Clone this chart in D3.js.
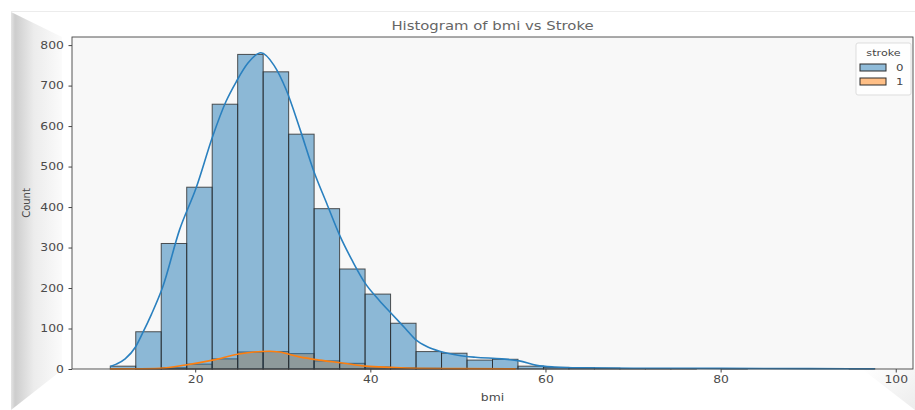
<!DOCTYPE html>
<html>
<head>
<meta charset="utf-8">
<script src="https://cdn.jsdelivr.net/npm/d3@7"></script>
<style>
  body { margin: 0; background: #fff; }
  svg { display: block; font-family: "DejaVu Sans", sans-serif; }
</style>
</head>
<body>
<svg id="chart" width="915" height="410"></svg>
<script>
// bin edges (bmi), 30 bins
const binEdges = [10.3, 13.21, 16.12, 19.03, 21.94, 24.85, 27.76, 30.67, 33.58, 36.49,
  39.4, 42.31, 45.22, 48.13, 51.04, 53.95, 56.86, 59.77, 62.68, 65.59,
  68.5, 71.41, 74.32, 77.23, 80.14, 83.05, 85.96, 88.87, 91.78, 94.69, 97.6];

// counts per bin
const countsStroke0 = [7, 92, 310, 449, 654, 777, 734, 580, 396, 247, 185, 113, 43, 39, 22,
  24, 7, 4, 3, 2, 1, 1, 1, 0, 1, 0, 0, 0, 0, 1];
const countsStroke1 = [0, 1, 3, 12, 25, 42, 43, 38, 20, 14, 5, 3, 2, 1, 0,
  0, 0, 0, 0, 0, 0, 0, 0, 0, 0, 0, 0, 0, 0, 0];

// kde curves: [bmi, count]
const kdeStroke0 = [[10.3, 6], [11, 12], [12, 25], [13.2, 55], [14, 89], [15, 135], [16.3, 203],
  [18.2, 343], [20.1, 447], [22, 575], [23.5, 660], [24.7, 710], [26, 755], [27.5, 781],
  [29, 750], [30.4, 689], [32, 590], [33.5, 491], [35, 410], [36.5, 330], [38, 265],
  [39.4, 212], [41, 170], [42.4, 137], [44, 100], [45.2, 72], [46.5, 55], [47.9, 44],
  [50, 34], [52, 29], [55, 25], [57, 20], [59, 9], [61, 5], [64, 3], [70, 2], [80, 1.5],
  [90, 1], [97.6, 0.5]];
const kdeStroke1 = [[10.3, 0.3], [13, 0.6], [16, 2], [18.9, 10], [22, 22], [25, 37], [28.5, 44],
  [29.6, 42], [31.9, 30], [34.2, 22], [36.8, 15], [39.5, 7], [42.4, 4], [45, 2], [50, 1],
  [56.6, 0.3]];

const yTicks = [0, 100, 200, 300, 400, 500, 600, 700, 800];
const xTicks = [20, 40, 60, 80, 100];
const hueLevels = ["0", "1"];

const svg = d3.select("#chart");
const pL = 72, pR = 913, pT = 37, pB = 369;
const stretch = "scale(1.24,1)"; // the picture is wider than tall

const x = d3.scaleLinear().domain([5.93, 101.97]).range([pL, pR]);
const y = d3.scaleLinear().domain([0, 820]).range([pB, pT]);
const color = d3.scaleOrdinal().domain(hueLevels).range(["#1f77b4", "#ff7f0e"]);

// decorative frame
const defs = svg.append("defs");
const g1 = defs.append("linearGradient").attr("id", "leftShade");
g1.append("stop").attr("offset", "0").attr("stop-color", "#e4e4e4");
g1.append("stop").attr("offset", "0.08").attr("stop-color", "#cdcdcd");
g1.append("stop").attr("offset", "0.45").attr("stop-color", "#ececec");
g1.append("stop").attr("offset", "1").attr("stop-color", "#fbfbfb");
const g2 = defs.append("linearGradient").attr("id", "brShade")
  .attr("x1", "0").attr("y1", "0").attr("x2", "1").attr("y2", "1");
g2.append("stop").attr("offset", "0").attr("stop-color", "#ffffff");
g2.append("stop").attr("offset", "1").attr("stop-color", "#ececec");

svg.append("line").attr("x1", 11).attr("x2", 915).attr("y1", 11.5).attr("y2", 11.5)
  .attr("stroke", "#ececec");
svg.append("polygon")
  .attr("points", "11,12 62,37 62,370 11,410")
  .attr("fill", "url(#leftShade)");
svg.append("polygon")
  .attr("points", "862,369 915,369 915,410")
  .attr("fill", "url(#brShade)");

// plot area
svg.append("rect").attr("x", pL).attr("y", pT)
  .attr("width", pR - pL).attr("height", pB - pT)
  .attr("fill", "#f8f8f8");

const bins0 = countsStroke0.map((c, i) => ({x0: binEdges[i], x1: binEdges[i + 1], n: c, hue: "0"}));
const bins1 = countsStroke1.map((c, i) => ({x0: binEdges[i], x1: binEdges[i + 1], n: c, hue: "1"}));

// seaborn draws hue levels in reverse: stroke=1 first, stroke=0 on top
[bins1, bins0].forEach(bins => {
  svg.append("g").selectAll("rect")
    .data(bins)
    .join("rect")
    .attr("x", d => x(d.x0))
    .attr("width", d => x(d.x1) - x(d.x0))
    .attr("y", d => y(d.n))
    .attr("height", d => y(0) - y(d.n))
    .attr("fill", d => color(d.hue))
    .attr("fill-opacity", 0.5)
    .attr("stroke", "#2b2b2b")
    .attr("stroke-opacity", 0.8)
    .attr("stroke-width", 1);
});

const line = d3.line().x(d => x(d[0])).y(d => y(d[1])).curve(d3.curveMonotoneX);
svg.append("path").datum(kdeStroke1).attr("d", line)
  .attr("fill", "none").attr("stroke", color("1")).attr("stroke-width", 1.6);
svg.append("path").datum(kdeStroke0).attr("d", line)
  .attr("fill", "none").attr("stroke", "#2a80bf").attr("stroke-width", 1.6);

// spines
svg.append("rect").attr("x", pL).attr("y", pT)
  .attr("width", pR - pL).attr("height", pB - pT)
  .attr("fill", "none").attr("stroke", "#444").attr("stroke-width", 0.9);

// axes
const yAxis = svg.append("g").attr("transform", `translate(${pL},0)`)
  .call(d3.axisLeft(y).tickValues(yTicks).tickSize(3.5).tickPadding(3));
const xAxis = svg.append("g").attr("transform", `translate(0,${pB})`)
  .call(d3.axisBottom(x).tickValues(xTicks).tickSize(3.5).tickPadding(3));
[yAxis, xAxis].forEach(a => {
  a.select(".domain").remove();
  a.selectAll("line").attr("stroke", "#444");
  a.selectAll("text").attr("fill", "#4a4a4a").attr("font-size", 10)
    .attr("font-family", "DejaVu Sans").attr("transform", stretch);
});

svg.append("text").attr("transform", `translate(${(pL + pR) / 2},401) ${stretch}`)
  .attr("text-anchor", "middle").attr("font-size", 10).attr("fill", "#4a4a4a").text("bmi");
svg.append("text").attr("transform", `translate(30,${(pT + pB) / 2}) rotate(-90)`)
  .attr("text-anchor", "middle").attr("font-size", 10).attr("fill", "#4a4a4a").text("Count");
svg.append("text").attr("transform", `translate(${(pL + pR) / 2},29.5) ${stretch}`)
  .attr("text-anchor", "middle").attr("font-size", 12).attr("fill", "#666")
  .text("Histogram of bmi vs Stroke");

// legend
const lg = svg.append("g").attr("transform", "translate(856,43)");
lg.append("rect").attr("width", 55).attr("height", 52).attr("rx", 2)
  .attr("fill", "#fff").attr("fill-opacity", 0.8).attr("stroke", "#ddd");
lg.append("text").attr("transform", `translate(27.5,13) ${stretch}`).attr("text-anchor", "middle")
  .attr("font-size", 9).attr("fill", "#444").text("stroke");
hueLevels.forEach((h, i) => {
  lg.append("rect").attr("x", 4).attr("y", 21 + i * 14).attr("width", 26).attr("height", 7)
    .attr("fill", color(h)).attr("fill-opacity", 0.5).attr("stroke", "#2b2b2b");
  lg.append("text").attr("transform", `translate(40,${28 + i * 14}) ${stretch}`)
    .attr("font-size", 9.5).attr("fill", "#444").text(h);
});
</script>
</body>
</html>
